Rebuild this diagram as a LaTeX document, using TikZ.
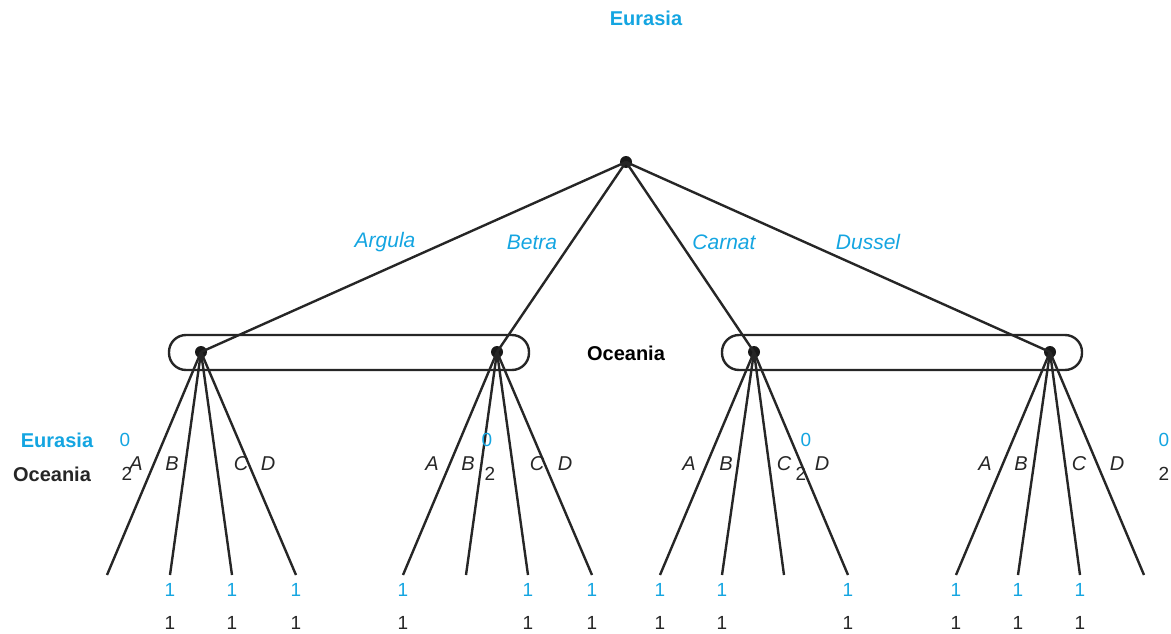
\documentclass[tikz,border=0pt]{standalone}
\usepackage{fontspec}
\setmainfont{Liberation Sans}
\definecolor{cy}{RGB}{20,165,225}
\begin{document}
\begin{tikzpicture}[x=1pt,y=-1pt,
  edge/.style={line width=2.4pt, black!85},
  dot/.style={circle, fill=black!90, inner sep=0pt, minimum size=12pt},
  br/.style={font=\fontsize{21}{23}\selectfont\itshape, text=cy, inner sep=0pt},
  act/.style={font=\fontsize{20}{22}\selectfont\itshape, text=black!85, inner sep=0pt},
  pl/.style={font=\fontsize{20}{22}\selectfont\bfseries, inner sep=0pt},
  num/.style={font=\fontsize{19}{21}\selectfont, inner sep=0pt},
  iset/.style={line width=2.4pt, black!85, rounded corners=17pt}]
\useasboundingbox (0,0) rectangle (1171,634);
% root and information set nodes
\node[dot] (r) at (626,162) {};
\node[dot] (n1) at (201,352) {};
\node[dot] (n2) at (497,352) {};
\node[dot] (n3) at (754,352) {};
\node[dot] (n4) at (1050,352) {};
% information sets
\draw[iset] (169,335) rectangle (529,370);
\draw[iset] (722,335) rectangle (1082,370);
% root edges
\foreach \n in {n1,n2,n3,n4} \draw[edge] (r.center) -- (\n.center);
% leaves
\foreach \g/\xs in {1/{107,170,232,296},2/{403,466,528,592},3/{660,722,784,848},4/{956,1018,1080,1144}}{
  \foreach \x [count=\i] in \xs {
    \coordinate (l\g\i) at (\x,575);
    \draw[edge] (n\g.center) -- (l\g\i);
  }
}
% titles
\node[pl, text=cy] (tE) at (646,18) {Eurasia};
\node[pl] (tO) at (626,353) {Oceania};
\node[pl, text=cy] (lE) at (57,440) {Eurasia};
\node[pl, text=black!85] (lO) at (52,474) {Oceania};
% branch labels
\node[br] (bA) at (385,242) {Argula};
\node[br] (bB) at (532,242) {Betra};
\node[br] (bC) at (724,242) {Carnat};
\node[br] (bD) at (868,242) {Dussel};
% action labels
\foreach \g/\xa/\xb/\xc/\xd in {1/136/172/241/268,2/432/468/537/565,3/689/726/784/822,4/985/1021/1079/1117}{
  \node[act] (a\g A) at (\xa,464) {A};
  \node[act] (a\g B) at (\xb,464) {B};
  \node[act] (a\g C) at (\xc,464) {C};
  \node[act] (a\g D) at (\xd,464) {D};
}
% 0 / 2 values
\node[num, text=cy] (z1) at (125,440) {0};
\node[num, text=black!85] (t1) at (127,474) {2};
\node[num, text=cy] (z2) at (487,440) {0};
\node[num, text=black!85] (t2) at (490,474) {2};
\node[num, text=cy] (z3) at (806,440) {0};
\node[num, text=black!85] (t3) at (801,474) {2};
\node[num, text=cy] (z4) at (1164,440) {0};
\node[num, text=black!85] (t4) at (1164,474) {2};
% payoffs
\foreach \x [count=\i] in {170,232,296,403,528,592,660,722,848,956,1018,1080}{
  \node[num, text=cy] (pe\i) at (\x,590) {1};
  \node[num, text=black!85] (po\i) at (\x,623) {1};
}
\end{tikzpicture}
\end{document}
